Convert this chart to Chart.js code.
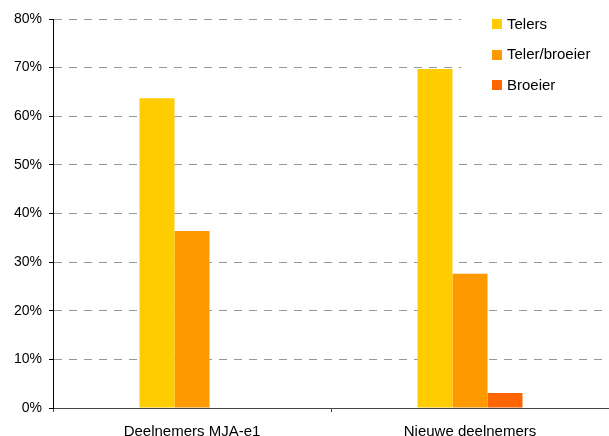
<!DOCTYPE html>
<html>
<head>
<meta charset="utf-8">
<script src="https://cdn.jsdelivr.net/npm/chart.js@4/dist/chart.umd.min.js"></script>
<style>
  html, body { margin: 0; padding: 0; background: #fff; }
  #wrap { width: 609px; height: 436px; }
</style>
</head>
<body>
<div id="wrap"><canvas id="c" width="609" height="436"></canvas></div>
<script>
const categories = ['Deelnemers MJA-e1', 'Nieuwe deelnemers'];
const seriesNames = ['Telers', 'Teler/broeier', 'Broeier'];
const telers = [63.7, 69.7];
const telerBroeier = [36.4, 27.6];
const broeier = [0, 3.1];
const seriesColors = ['#FFCC00', '#FF9900', '#FF6600'];
const yTicks = [0, 10, 20, 30, 40, 50, 60, 70, 80];

const FONT = "'Liberation Sans', Arial, sans-serif";

// Vertical legend on a white panel in the upper-right corner of the plot area
const cornerLegend = {
  id: 'cornerLegend',
  afterDraw(chart) {
    const ctx = chart.ctx;
    const area = chart.chartArea;
    ctx.save();
    ctx.fillStyle = '#fff';
    ctx.fillRect(461, area.top - 3, area.right - 461 + 1, 100 - area.top);
    ctx.font = '15px ' + FONT;
    ctx.textBaseline = 'middle';
    ctx.textAlign = 'left';
    chart.data.datasets.forEach((ds, i) => {
      const cy = 24.3 + i * 30.4;
      ctx.fillStyle = ds.backgroundColor;
      ctx.fillRect(492, Math.round(cy - 5), 10, 10);
      ctx.fillStyle = '#000';
      ctx.fillText(ds.label, 507, cy + 0.5);
    });
    ctx.restore();
  }
};

const values = [telers, telerBroeier, broeier];

new Chart(document.getElementById('c'), {
  type: 'bar',
  data: {
    labels: categories,
    datasets: seriesNames.map((name, i) => ({
      label: name,
      data: values[i],
      backgroundColor: seriesColors[i],
      borderWidth: 0,
      barPercentage: 1,
      categoryPercentage: 0.3777
    }))
  },
  options: {
    responsive: false,
    animation: false,
    devicePixelRatio: 1,
    layout: { padding: { top: 19, right: 0, left: 0, bottom: 0 } },
    plugins: {
      legend: { display: false },
      tooltip: { enabled: false }
    },
    scales: {
      x: {
        afterFit(s) { s.height = 28; },
        grid: {
          display: true,
          drawOnChartArea: false,
          drawTicks: true,
          tickLength: 4,
          tickColor: '#444',
          offset: true
        },
        border: { display: true, color: '#444', width: 1 },
        ticks: {
          color: '#000',
          font: { family: FONT, size: 15 },
          padding: 11
        }
      },
      y: {
        min: 0,
        max: 80,
        afterFit(s) { s.width = 53; },
        afterBuildTicks(s) { s.ticks = yTicks.map(v => ({ value: v })); },
        grid: {
          color: '#999',
          lineWidth: 1,
          drawTicks: true,
          tickLength: 4,
          tickColor: '#000',
          tickBorderDash: []
        },
        border: { display: true, color: '#000', width: 1, dash: [8, 7] },
        ticks: {
          color: '#000',
          font: { family: FONT, size: 14 },
          padding: 7,
          callback: v => v + '%'
        }
      }
    }
  },
  plugins: [cornerLegend]
});
</script>
</body>
</html>
